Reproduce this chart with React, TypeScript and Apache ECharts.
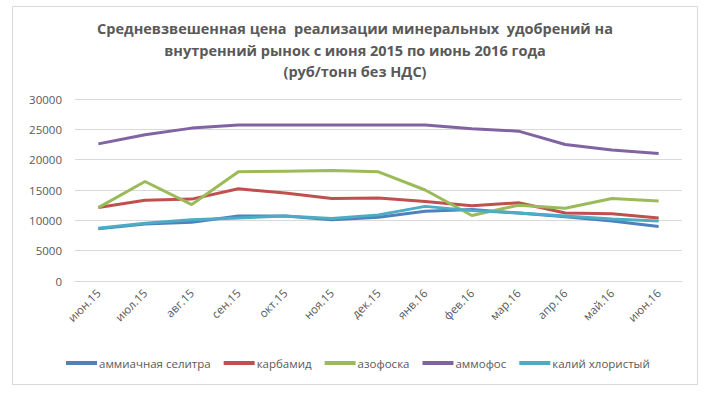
import React, { useEffect, useRef } from "react";
import * as echarts from "echarts";

const categories = ["июн.15", "июл.15", "авг.15", "сен.15", "окт.15", "ноя.15", "дек.15", "янв.16", "фев.16", "мар.16", "апр.16", "май.16", "июн.16"];
const ammoniumNitrate = [8600, 9400, 9700, 10700, 10700, 10100, 10500, 11500, 11800, 11200, 10600, 9900, 9000];
const carbamide = [12100, 13300, 13500, 15200, 14500, 13600, 13700, 13100, 12400, 12900, 11200, 11100, 10400];
const azofoska = [12100, 16400, 12600, 18000, 18100, 18200, 18000, 15000, 10800, 12500, 12000, 13600, 13200];
const ammofos = [22600, 24100, 25200, 25700, 25700, 25700, 25700, 25700, 25100, 24700, 22500, 21600, 21000];
const potassiumChloride = [8700, 9500, 10100, 10400, 10700, 10300, 10900, 12300, 11600, 11200, 10700, 10200, 9900];
const seriesNames = ["аммиачная селитра", "карбамид", "азофоска", "аммофос", "калий хлористый"];
const colors = ["#4F81BD", "#C0504D", "#9BBB59", "#8064A2", "#4BACC6"];
const titleText = "Средневзвешенная цена  реализации минеральных  удобрений на\nвнутренний рынок с июня 2015 по июнь 2016 года\n(руб/тонн без НДС)";

export default function App() {
  const ref = useRef<HTMLDivElement>(null);
  useEffect(() => {
    if (!ref.current) return;
    const chart = echarts.init(ref.current, null, { renderer: "svg" });
    const data = [ammoniumNitrate, carbamide, azofoska, ammofos, potassiumChloride];
    const font = "'Open Sans', 'Noto Sans', sans-serif";
    chart.setOption({
      animation: false,
      color: colors,
      textStyle: { fontFamily: font },
      title: {
        text: titleText,
        left: "center",
        top: 13,
        textStyle: { fontSize: 14.5, fontWeight: "bold", color: "#595959", lineHeight: 21.5, fontFamily: font },
      },
      graphic: [
        {
          type: "rect",
          shape: { x: 12.5, y: 6.5, width: 685, height: 378 },
          style: { fill: "none", stroke: "#D9D9D9", lineWidth: 1 },
          silent: true,
        },
      ],
      grid: { left: 75, right: 28, top: 99, height: 182, containLabel: false },
      legend: {
        top: 352,
        left: 61,
        itemWidth: 31,
        itemHeight: 4,
        itemGap: 13,
        icon: "rect",
        textStyle: { fontSize: 11.5, color: "#595959", padding: [0, 0, 0, -3], fontFamily: font },
        data: seriesNames,
      },
      xAxis: {
        type: "category",
        data: categories,
        boundaryGap: true,
        axisLine: { show: true, lineStyle: { color: "#D9D9D9" } },
        axisTick: { show: false },
        axisLabel: { rotate: 45, fontSize: 11.5, color: "#595959", margin: 10, interval: 0, fontFamily: font },
      },
      yAxis: {
        type: "value",
        min: 0,
        max: 30000,
        interval: 5000,
        axisLine: { show: false },
        axisTick: { show: false },
        splitLine: { lineStyle: { color: "#D9D9D9" } },
        axisLabel: { fontSize: 11.5, color: "#595959", margin: 13, fontFamily: font, formatter: (v: number) => String(v) },
      },
      series: seriesNames.map((name, i) => ({
        name,
        type: "line",
        data: data[i],
        symbol: "none",
        lineStyle: { width: 3, color: colors[i] },
        itemStyle: { color: colors[i] },
      })),
    });
    return () => chart.dispose();
  }, []);
  return <div ref={ref} style={{ position: "fixed", left: 0, top: 0, width: 710, height: 397, background: "#fff" }} />;
}
